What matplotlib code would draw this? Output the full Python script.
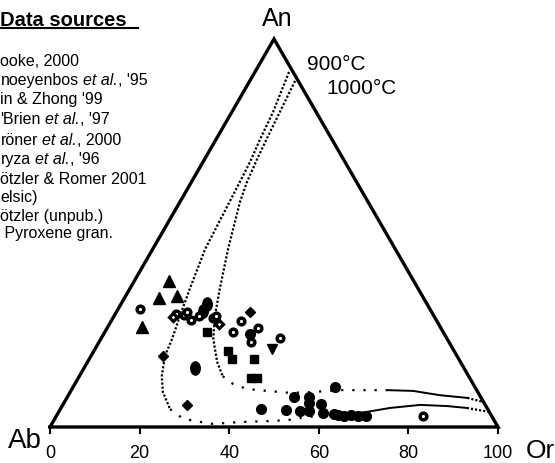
import numpy as np
import matplotlib
matplotlib.use('Agg')
import matplotlib.pyplot as plt
from matplotlib.path import Path
from matplotlib.lines import Line2D

plt.rcParams['font.family'] = ['Liberation Sans', 'DejaVu Sans']

# ---------------- data (ternary compositions, Or % and An %) ----------------
tri_up_or = [7.8, 7.7, 11.4, 7.6]
tri_up_an = [37.6, 33.2, 33.8, 25.8]

open_circ_or = [4.9, 13.5, 15.5, 15.8, 17.7, 19.0, 22.4, 22.8, 28.6, 28.9, 33.9, 33.6, 39.8, 81.9]
open_circ_an = [30.4, 29.1, 28.9, 29.6, 27.6, 28.6, 28.1, 28.6, 24.5, 27.3, 21.9, 25.5, 22.9, 2.8]

open_diam_or = [13.3, 24.4]
open_diam_an = [28.3, 26.5]

ellipse_or = [19.2, 19.1, 24.8]
ellipse_an = [31.7, 29.9, 15.2]

fill_diam_or = [29.8, 16.0, 27.8]
fill_diam_an = [29.6, 18.3, 5.7]

square_or = [22.8, 29.9, 31.8, 36.7, 38.6, 39.9]
square_an = [24.5, 19.6, 17.5, 17.5, 12.6, 12.6]

tri_down_or = [39.6]
tri_down_an = [20.1]

fill_circ_or = [32.6, 44.8, 50.5, 50.6, 53.7, 53.9, 54.7, 55.7, 57.5, 59.1, 58.4,
                61.7, 62.8, 64.2, 65.7, 67.3, 69.1]
fill_circ_an = [24.0, 4.6, 4.4, 7.7, 4.1, 7.7, 6.2, 4.1, 5.9, 3.6, 10.3,
                3.4, 3.1, 2.8, 3.1, 2.8, 2.8]

# 900 °C isotherm
iso900_or = [7.6, 9.2, 9.8, 10.5, 10.8, 11.7, 13.4, 14.7, 15.9, 16.5, 18.4, 20.7, 24.5,
             28.7, 32.9, 36.0, 42.0, 47.7, 52.2, 56.1, 63.2, 68.8, 73.4, 79.8, 85.9,
             90.6, 96.1]
iso900_an = [91.5, 81.2, 74.2, 68.3, 63.1, 45.9, 35.6, 28.6, 22.7, 18.3, 13.1, 9.0, 4.6,
             2.1, 1.3, 0.8, 1.3, 1.5, 1.8, 2.6, 3.1, 3.9, 4.9, 5.7, 5.4,
             4.9, 3.9]
# 1000 °C isotherm
iso1000_or = [10.1, 10.6, 11.1, 11.7, 12.4, 13.4, 16.8, 20.1, 22.5, 25.1, 28.9, 32.0,
              35.3, 39.1, 43.8, 49.2, 54.2, 59.3, 65.1, 70.5, 76.4, 82.9, 89.4, 93.7]
iso1000_an = [89.2, 82.7, 76.0, 69.1, 63.1, 58.0, 45.9, 35.6, 28.6, 22.7, 16.8, 13.1,
              11.1, 9.8, 9.3, 8.8, 9.0, 9.5, 9.5, 9.5, 9.3, 8.2, 7.5, 6.4]

ticks = [0, 20, 40, 60, 80, 100]

# legend lines: (normal text, italic text, normal text)
legend_lines = [("ooke, 2000", "", ""),
                ("noeyenbos", "et al.", ", '95"),
                ("in & Zhong '99", "", ""),
                ("'Brien", "et al.", ", '97"),
                ("röner", "et al.", ", 2000"),
                ("ryza", "et al.", ", '96"),
                ("ötzler & Romer 2001", "", ""),
                ("elsic)", "", ""),
                ("ötzler (unpub.)", "", ""),
                (" Pyroxene gran.", "", "")]

S3 = np.sqrt(3) / 2


def tern(o, a):
    o = np.asarray(o, float)
    a = np.asarray(a, float)
    return o + a / 2.0, a * S3


W, H = 555, 464
fig = plt.figure(figsize=(W / 100, H / 100), dpi=100)
renderer = fig.canvas.get_renderer()
ax = fig.add_axes([50 / W, 36 / H, 448 / W, 388 / H])
ax.set_xlim(0, 100)
ax.set_ylim(0, 100 * S3)
for s in ax.spines.values():
    s.set_visible(False)
ax.get_yaxis().set_visible(False)
ax.set_xticks(ticks)
ax.set_xticklabels([str(t) for t in ticks], fontsize=13)
ax.tick_params(axis='x', direction='out', length=5, width=1.5, pad=7.5, color='black')
ax.patch.set_alpha(0)

# triangle
tx, ty = tern([0, 100, 0, 0], [0, 0, 100, 0])
ax.plot(tx, ty, color='black', lw=2.4, solid_joinstyle='miter', clip_on=False, zorder=3)


def seg(ors, ans, i0, i1, **kw):
    x, y = tern(ors[i0:i1 + 1], ans[i0:i1 + 1])
    ax.plot(x, y, color='black', clip_on=False, zorder=2, **kw)


dense = dict(lw=1.6, linestyle=(0, (1, 0.85)))
sparse = dict(lw=1.6, linestyle=(0, (1, 4.0)))
solid = dict(lw=1.4, linestyle='-')

n9 = len(iso900_or) - 1
seg(iso900_or, iso900_an, 0, 12, **dense)
seg(iso900_or, iso900_an, 12, 20, **sparse)
seg(iso900_or, iso900_an, 20, 25, **solid)
seg(iso900_or, iso900_an, 25, n9, **dense)

n10 = len(iso1000_or) - 1
seg(iso1000_or, iso1000_an, 0, 11, **dense)
seg(iso1000_or, iso1000_an, 11, 19, **sparse)
seg(iso1000_or, iso1000_an, 19, 22, **solid)
seg(iso1000_or, iso1000_an, 22, n10, **dense)

# markers
uc = Path.unit_circle()
ell = Path(uc.vertices * np.array([0.72, 1.0]), uc.codes)


def pts(o, a, **kw):
    x, y = tern(o, a)
    ax.plot(x, y, linestyle='none', clip_on=False, zorder=4, **kw)


pts(tri_up_or, tri_up_an, marker='^', ms=8, mfc='black', mec='black')
pts(fill_circ_or, fill_circ_an, marker='o', ms=7, mfc='black', mec='black')
pts(ellipse_or, ellipse_an, marker=ell, ms=9.5, mfc='black', mec='black')
pts(fill_diam_or, fill_diam_an, marker='D', ms=5.4, mfc='black', mec='black')
pts(square_or, square_an, marker='s', ms=5.8, mfc='black', mec='black')
pts(tri_down_or, tri_down_an, marker='v', ms=7.5, mfc='black', mec='black')
pts(open_circ_or, open_circ_an, marker='o', ms=4.8, mfc='white', mec='black', mew=2.5)
pts(open_diam_or, open_diam_an, marker='D', ms=4.3, mfc='white', mec='black', mew=2.3)


# labels
def ftext(px, py, s, **kw):
    return fig.text(px / W, 1 - py / H, s, **kw)


ftext(277, 19, "An", fontsize=18, ha='center', va='center')
ftext(25, 441, "Ab", fontsize=20, ha='center', va='center')
ftext(540, 451, "Or", fontsize=19, ha='center', va='center')
ftext(336, 65, "900°C", fontsize=15, ha='center', va='center')
ftext(361, 88, "1000°C", fontsize=15, ha='center', va='center')

ftext(0, 20, "Data sources", fontsize=14.5, fontweight='bold', ha='left', va='center')
fig.add_artist(Line2D([0, 138 / W], [1 - 29 / H, 1 - 29 / H], transform=fig.transFigure,
                      color='black', lw=1.5))

LFS = 11.5


def width_of(s, style='normal'):
    t = ftext(0, 0, s, fontsize=LFS, style=style)
    w = t.get_window_extent(renderer).width
    t.remove()
    return w


space_w = width_of("x x") - width_of("xx")

ys = [61, 80, 99, 119, 140, 159, 179, 197, 216, 233]
for yy, (a, b, c) in zip(ys, legend_lines):
    x = 0.5
    base = yy + 5
    t = ftext(x, base, a, fontsize=LFS, ha='left', va='baseline')
    if b:
        x += t.get_window_extent(renderer).width + space_w
        t2 = ftext(x, base, b, fontsize=LFS, style='italic', ha='left', va='baseline')
        x += t2.get_window_extent(renderer).width
        ftext(x, base, c, fontsize=LFS, ha='left', va='baseline')

fig.savefig('out.png', dpi=100)
